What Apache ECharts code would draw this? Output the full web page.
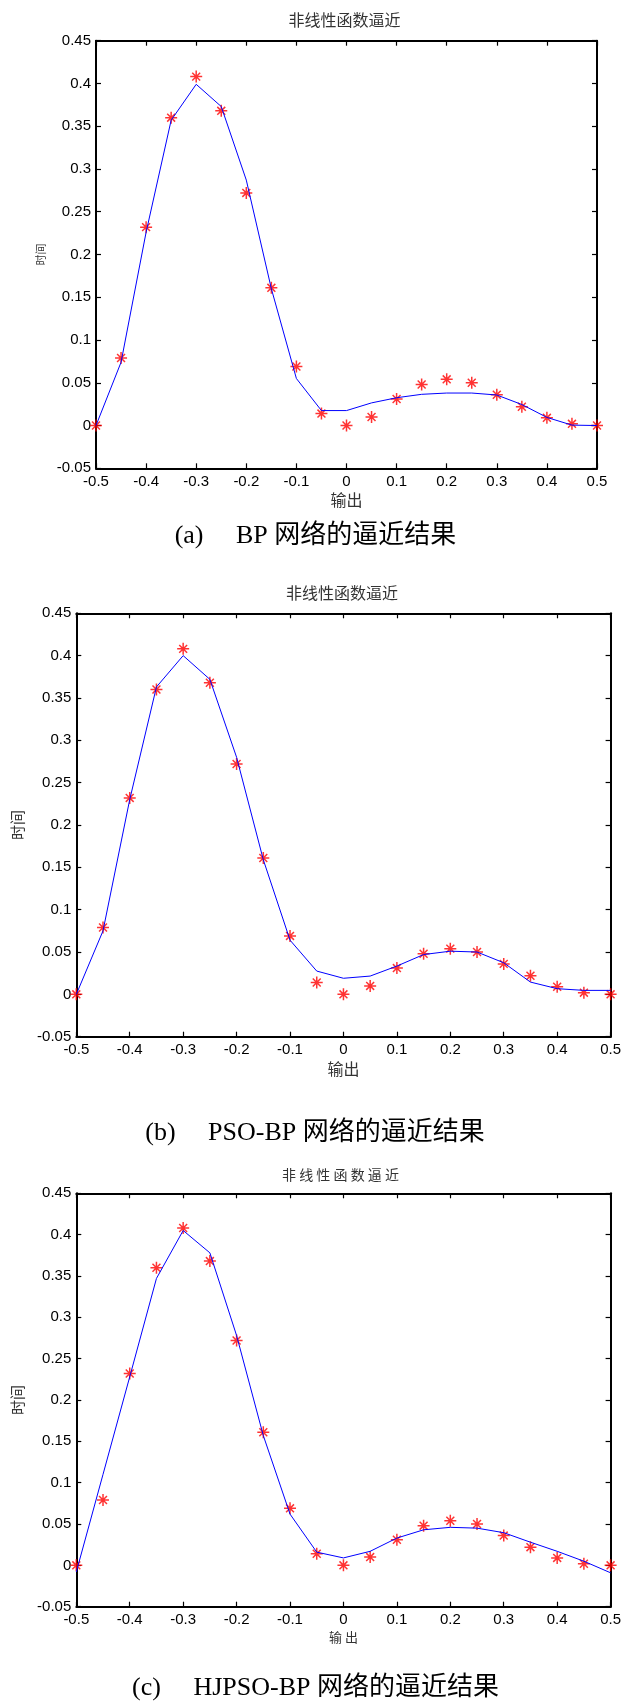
<!DOCTYPE html>
<html>
<head>
<meta charset="utf-8">
<script src="https://cdn.jsdelivr.net/npm/echarts@6/dist/echarts.min.js"></script>
<style>
html,body{margin:0;padding:0;background:#fff;}
#chart{width:623px;height:1702px;}
</style>
</head>
<body>
<div id="chart"></div>
<script>
// ---- data ----
const xValues = [-0.5, -0.45, -0.4, -0.35, -0.3, -0.25, -0.2, -0.15, -0.1, -0.05, 0, 0.05, 0.1, 0.15, 0.2, 0.25, 0.3, 0.35, 0.4, 0.45, 0.5];
const targetValues = [0, 0.079, 0.232, 0.360, 0.408, 0.368, 0.272, 0.161, 0.069, 0.014, 0, 0.010, 0.031, 0.048, 0.054, 0.050, 0.036, 0.022, 0.009, 0.002, 0];
const bpOutput = [0, 0.074, 0.226, 0.357, 0.399, 0.373, 0.287, 0.160, 0.055, 0.0175, 0.0175, 0.0265, 0.0325, 0.0365, 0.038, 0.038, 0.0357, 0.0246, 0.0095, 0.0005, 0];
const psoBpOutput = [0, 0.075, 0.230, 0.363, 0.400, 0.372, 0.280, 0.159, 0.064, 0.0275, 0.019, 0.0216, 0.0334, 0.047, 0.051, 0.050, 0.0373, 0.0145, 0.0067, 0.0047, 0.0047];
const hjpsoBpOutput = [-0.008, 0.11, 0.228, 0.347, 0.405, 0.378, 0.278, 0.157, 0.062, 0.016, 0.009, 0.017, 0.033, 0.043, 0.046, 0.045, 0.0395, 0.028, 0.017, 0.005, -0.009];
const xTickLabels = ['-0.5','-0.4','-0.3','-0.2','-0.1','0','0.1','0.2','0.3','0.4','0.5'];
const yTickLabels = ['-0.05','0','0.05','0.1','0.15','0.2','0.25','0.3','0.35','0.4','0.45'];
const panelTitles = ['非线性函数逼近', '非线性函数逼近', '非 线 性 函 数 逼 近'];
const xAxisNames = ['输出', '输出', '输 出'];
const yAxisName = '时间';
const captions = ['(a)\u2003 BP 网络的逼近结果', '(b)\u2003 PSO-BP 网络的逼近结果', '(c)\u2003 HJPSO-BP 网络的逼近结果'];

// ---- layout ----
const panels = [
  {left: 96, top: 40.7, width: 501, height: 427.6, titleX: 344.5, titleY: 20, titleSize: 16,
   yNameSize: 11, yNameGap: 50, capY: 536, capX: 315.5, out: bpOutput},
  {left: 76.3, top: 613.3, width: 534.3, height: 423.4, titleX: 342, titleY: 593.3, titleSize: 16,
   yNameSize: 15, yNameGap: 52, capY: 1132.7, capX: 315, out: psoBpOutput},
  {left: 76.3, top: 1193.3, width: 534.3, height: 413.4, titleX: 340.5, titleY: 1175, titleSize: 14,
   yNameSize: 15, yNameGap: 52, capY: 1688, capX: 315.5, out: hjpsoBpOutput}
];

const tickFont = {fontFamily: '"Liberation Sans", Arial, sans-serif', fontSize: 15, color: '#000'};
const cjk = '"Noto Sans CJK SC", sans-serif';

const grids = [], xAxes = [], yAxes = [], series = [], graphics = [];
const fmt = (list) => (v) => {
  const s = String(+v.toFixed(2));
  return list.indexOf(s) >= 0 ? s : '';
};

const asterisk = 'path://M0,-5L0,5M-5,0L5,0M-3.3,-3.3L3.3,3.3M-3.3,3.3L3.3,-3.3';
const X_RANGE = {min: -0.5, max: 0.5, interval: 0.1};
const Y_RANGE = {min: -0.05, max: 0.45, interval: 0.05};

panels.forEach((p, i) => {
  grids.push({left: p.left, top: p.top, width: p.width, height: p.height,
    show: false, containLabel: false, outerBoundsMode: 'none'});
  const common = {gridIndex: i, type: 'value', splitLine: {show: false},
    axisTick: {show: true, inside: true, length: 5, lineStyle: {color: '#000', width: 1.2}},
    axisLine: {show: true, onZero: false, lineStyle: {color: '#000', width: 2}}};

  xAxes.push(Object.assign({}, common, X_RANGE, {position: 'bottom',
    axisLabel: Object.assign({margin: 6, formatter: fmt(xTickLabels), showMinLabel: true, showMaxLabel: true}, tickFont),
    name: xAxisNames[i], nameLocation: 'middle', nameGap: 24,
    nameTextStyle: {fontFamily: cjk, fontSize: i === 2 ? 13 : 16, color: '#333'}}));
  xAxes.push(Object.assign({}, common, X_RANGE, {position: 'top', axisLabel: {show: false}}));

  yAxes.push(Object.assign({}, common, Y_RANGE, {position: 'left',
    axisLabel: Object.assign({margin: 5, formatter: fmt(yTickLabels), showMinLabel: true, showMaxLabel: true}, tickFont),
    name: yAxisName, nameLocation: 'middle', nameGap: p.yNameGap, nameRotate: 90,
    nameTextStyle: {fontFamily: cjk, fontSize: p.yNameSize, color: '#333'}}));
  yAxes.push(Object.assign({}, common, Y_RANGE, {position: 'right', axisLabel: {show: false}}));

  series.push({type: 'scatter', xAxisIndex: 2 * i, yAxisIndex: 2 * i,
    data: xValues.map((x, k) => [x, targetValues[k]]),
    symbol: asterisk, symbolSize: 12,
    itemStyle: {color: '#ff0000', borderColor: '#ff0000', borderWidth: 1.5},
    silent: true, z: 2});
  series.push({type: 'line', xAxisIndex: 2 * i, yAxisIndex: 2 * i,
    data: xValues.map((x, k) => [x, p.out[k]]),
    showSymbol: false, symbol: 'none', lineStyle: {color: '#0000ff', width: 1},
    silent: true, z: 3});

  graphics.push({type: 'text', x: p.titleX, y: p.titleY,
    style: {text: panelTitles[i], fontFamily: cjk, fontSize: p.titleSize, fill: '#333',
      textAlign: 'center', textVerticalAlign: 'middle'}});
  graphics.push({type: 'text', x: p.capX, y: p.capY,
    style: {text: captions[i], fontFamily: '"Liberation Serif", "Times New Roman", "Noto Sans CJK SC", serif',
      fontSize: 26, fill: '#000', textAlign: 'center', textVerticalAlign: 'middle'}});
});

const chart = echarts.init(document.getElementById('chart'), null, {renderer: 'canvas'});
chart.setOption({
  animation: false,
  backgroundColor: '#fff',
  grid: grids,
  xAxis: xAxes,
  yAxis: yAxes,
  series: series,
  graphic: graphics
});
</script>
</body>
</html>
